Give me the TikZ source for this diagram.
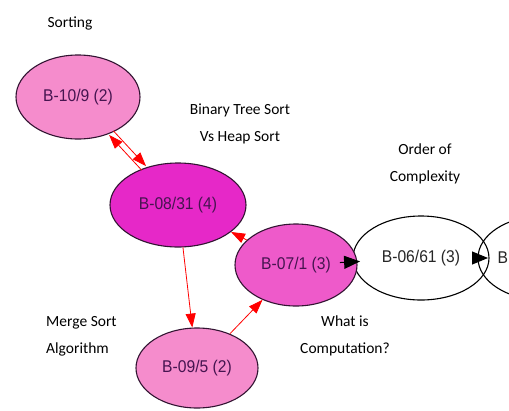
\documentclass[tikz,border=0pt]{standalone}
\usepackage{fontspec}
\setmainfont{Carlito}
\newfontfamily\nodefont[FakeStretch=0.92]{Liberation Sans}
\usetikzlibrary{shapes.geometric,arrows.meta}
\definecolor{pinklight}{RGB}{245,140,204}
\definecolor{pinkhot}{RGB}{230,40,200}
\definecolor{pinkmid}{RGB}{238,90,202}
\definecolor{rim}{RGB}{50,20,50}
\definecolor{nodetext}{RGB}{70,20,80}
\begin{document}
\begin{tikzpicture}[x=1pt,y=-1pt,
  topic/.style={ellipse, draw=rim, line width=1.1pt, inner sep=0pt,
    font=\nodefont\fontsize{17}{20}\selectfont, text=nodetext},
  plain/.style={topic, draw=black, text=black!85},
  caption/.style={font=\fontsize{15.5}{27}\selectfont, align=center, inner sep=0pt},
  redlink/.style={draw=red, line width=0.8pt, -{Triangle[length=14pt,width=10pt]}},
  blacklink/.style={draw=black, line width=1pt, -{Triangle[length=16pt,width=13pt]}}
]
\useasboundingbox (0,0) rectangle (509,410);
\clip (0,0) rectangle (509,410);
\fill[white] (0,0) rectangle (509,410);

% topic nodes
\node[topic, fill=pinklight, minimum width=124pt, minimum height=84pt] (s10) at (78,97) {B-10/9 (2)};
\node[topic, fill=pinkhot, minimum width=136pt, minimum height=84pt] (s08) at (178,205) {B-08/31 (4)};
\node[plain, fill=white, minimum width=136pt, minimum height=84pt] (s06) at (421,258) {B-06/61 (3)};
\node[plain, minimum width=130pt, minimum height=84pt] (s05) at (543,258) {};
\node[topic, draw=none, text=black!85, anchor=west] (s05t) at (495,258) {B};
\node[topic, fill=pinkmid, minimum width=122pt, minimum height=82pt] (s07) at (296,265) {B-07/1 (3)};
\node[topic, fill=pinklight, minimum width=122pt, minimum height=80pt] (s09) at (197,368) {B-09/5 (2)};

% connectors
\draw[redlink, transform canvas={xshift=2.2pt,yshift=2pt}] (s10) -- (s08);
\draw[redlink, transform canvas={xshift=-2.2pt,yshift=-2pt}] (s08) -- (s10);
\draw[redlink] (s07) -- (s08);
\draw[redlink] (s08) -- (s09);
\draw[redlink] (s09) -- (s07);
\draw[blacklink, shorten <=44pt, shorten >=61pt] (s07.center) -- (s06.center);
\draw[blacklink, shorten <=51pt, shorten >=55pt] (s06.center) -- (s05.center);

% captions
\node[caption] (lsort) at (70,23) {Sorting};
\node[caption] (lbin) at (240,124) {Binary Tree Sort\\Vs Heap Sort};
\node[caption] (lord) at (425,164) {Order of\\Complexity};
\node[caption, align=left, anchor=west] (lmerge) at (46,336) {Merge Sort\\Algorithm};
\node[caption] (lwhat) at (345,336) {What is\\Computation?};
\end{tikzpicture}
\end{document}
